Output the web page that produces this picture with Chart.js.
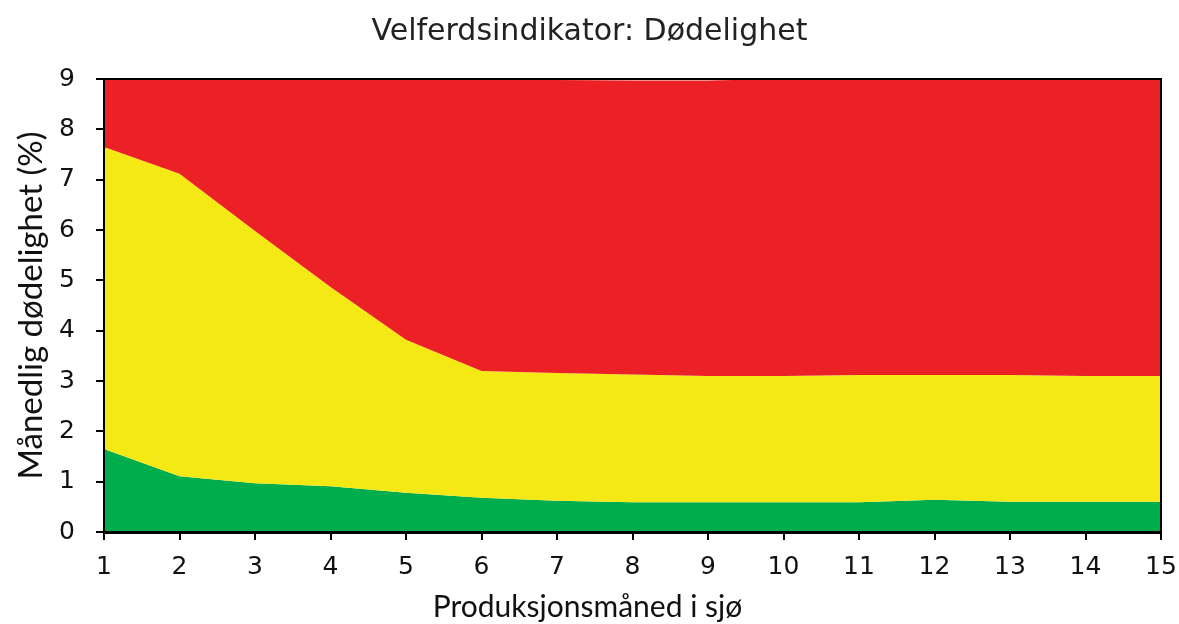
<!DOCTYPE html>
<html lang="no">
<head>
<meta charset="utf-8">
<title>Velferdsindikator: Dødelighet</title>
<script src="https://cdn.jsdelivr.net/npm/chart.js@4/dist/chart.umd.min.js"></script>
<style>
  html, body { margin: 0; padding: 0; background: #fff; }
  #wrap { width: 1179px; height: 624px; position: relative; }
</style>
</head>
<body>
<div id="wrap"><canvas id="chart" width="1179" height="624"></canvas></div>
<script>
// Production month in sea
const months = [1, 2, 3, 4, 5, 6, 7, 8, 9, 10, 11, 12, 13, 14, 15];
// Upper limit of the green zone (monthly mortality, %)
const greenLimit = [1.65, 1.11, 0.97, 0.91, 0.78, 0.68, 0.62, 0.59, 0.59, 0.59, 0.59, 0.64, 0.60, 0.60, 0.60];
// Upper limit of the yellow zone
const yellowLimit = [7.65, 7.12, 5.98, 4.87, 3.82, 3.20, 3.16, 3.13, 3.10, 3.10, 3.12, 3.12, 3.12, 3.10, 3.10];
// Upper limit of the red zone
const redLimit = [9, 9, 9, 9, 9, 9, 8.98, 8.97, 8.97, 9, 9, 9, 9, 9, 9];
const yTicks = [0, 1, 2, 3, 4, 5, 6, 7, 8, 9];
const xTitle = 'Produksjonsmåned i sjø';

const toPoints = arr => arr.map((v, i) => ({ x: months[i], y: v }));

const wide = '"DejaVu Sans", sans-serif';
const humanist = 'Lato, "Open Sans", sans-serif';

// Thin black frame round the plot area, and the x-axis title centred on the page
const frame = {
  id: 'frame',
  afterDatasetsDraw(chart) {
    const { ctx, chartArea: a } = chart;
    ctx.save();
    ctx.strokeStyle = '#000';
    ctx.lineWidth = 2;
    ctx.strokeRect(a.left, a.top, a.right - a.left, a.bottom - a.top);
    ctx.restore();
  },
  afterDraw(chart) {
    const { ctx, width, height } = chart;
    ctx.save();
    ctx.fillStyle = '#111';
    ctx.font = '30px ' + humanist;
    ctx.textAlign = 'center';
    ctx.textBaseline = 'middle';
    ctx.fillText(xTitle, width / 2 - 2, height - 17);
    ctx.restore();
  }
};

new Chart(document.getElementById('chart'), {
  type: 'line',
  data: {
    datasets: [
      { label: 'Grønn', data: toPoints(greenLimit), backgroundColor: '#00AD4C', fill: 'origin', order: 3 },
      { label: 'Gul', data: toPoints(yellowLimit), backgroundColor: '#F4E914', fill: '-1', order: 2 },
      { label: 'Rød', data: toPoints(redLimit), backgroundColor: '#EC2125', fill: '-1', order: 1 }
    ].map(d => Object.assign(d, { borderWidth: 0, pointRadius: 0, tension: 0 }))
  },
  options: {
    responsive: false,
    animation: false,
    layout: { padding: { top: 10, right: 0, left: 0, bottom: 0 } },
    plugins: {
      legend: { display: false },
      tooltip: { enabled: false },
      title: {
        display: true,
        text: 'Velferdsindikator: Dødelighet',
        color: '#222',
        font: { family: wide, size: 30, weight: 'normal' },
        padding: { top: 4, bottom: 29 }
      }
    },
    scales: {
      x: {
        type: 'linear',
        min: 1,
        max: 15,
        afterBuildTicks: s => { s.ticks = months.map(v => ({ value: v })); },
        afterFit: s => { s.height = 92; s.paddingRight = 18; },
        ticks: { color: '#111', font: { family: wide, size: 25 }, padding: 12, callback: v => String(v) },
        grid: { display: true, drawOnChartArea: false, drawTicks: true, tickLength: 8, color: '#000', lineWidth: 2 },
        border: { display: true, color: '#000', width: 3 },
        title: { display: false }
      },
      y: {
        min: 0,
        max: 9,
        afterBuildTicks: s => { s.ticks = yTicks.map(v => ({ value: v })); },
        afterFit: s => { s.width = 104; },
        ticks: { color: '#111', font: { family: wide, size: 25 }, padding: 21 },
        grid: { display: true, drawOnChartArea: false, drawTicks: true, tickLength: 8, color: '#000', lineWidth: 2 },
        border: { display: true, color: '#000', width: 3 },
        title: {
          display: true,
          text: 'Månedlig dødelighet (%)',
          color: '#111',
          font: { family: humanist, size: 33 },
          padding: { top: 12, bottom: 0 }
        }
      }
    }
  },
  plugins: [frame]
});
</script>
</body>
</html>
